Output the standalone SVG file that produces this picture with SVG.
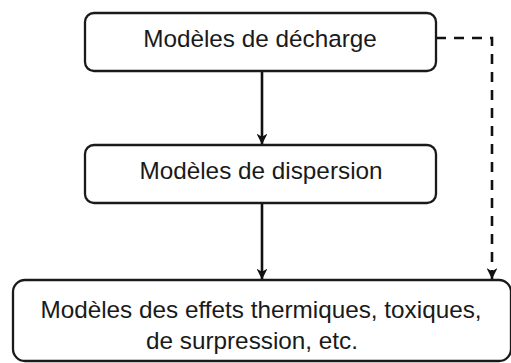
<svg xmlns="http://www.w3.org/2000/svg" width="511" height="363" viewBox="0 0 511 363">
  <style>
    .box { fill: #ffffff; stroke: #1a1a1a; stroke-width: 2.3; }
    .label { font-family: "Liberation Sans", Arial, sans-serif; font-size: 24.3px; fill: #1a1a1a; text-anchor: middle; }
    .edge { fill: none; stroke: #111111; stroke-width: 2.6; }
    .dashed { stroke-dasharray: 10 8; }
  </style>
  <defs>
    <marker id="arrow" viewBox="0 0 10 10" refX="10" refY="5" markerWidth="4.2" markerHeight="4.2" markerUnits="strokeWidth" orient="auto">
      <path d="M0,0 L10,5 L0,10 L3,5 Z" fill="#111111"/>
    </marker>
  </defs>
  <rect width="511" height="363" fill="#ffffff"/>

  <g id="connectors">
    <line class="edge" x1="262" y1="71" x2="262" y2="144.5" marker-end="url(#arrow)"/>
    <line class="edge" x1="262" y1="203" x2="262" y2="279.5" marker-end="url(#arrow)"/>
    <path class="edge dashed" d="M436,38 H492 V279" marker-end="url(#arrow)"/>
  </g>

  <g id="node-decharge">
    <rect class="box" x="85" y="13" width="351" height="58" rx="9"/>
    <text class="label" x="260" y="47">Modèles de décharge</text>
  </g>

  <g id="node-dispersion">
    <rect class="box" x="85" y="145" width="351" height="58" rx="9"/>
    <text class="label" x="261" y="179">Modèles de dispersion</text>
  </g>

  <g id="node-effets">
    <rect class="box" x="13" y="280" width="498" height="81" rx="12"/>
    <text class="label" x="261" y="318">Modèles des effets thermiques, toxiques,</text>
    <text class="label" x="252" y="349">de surpression, etc.</text>
  </g>
</svg>
